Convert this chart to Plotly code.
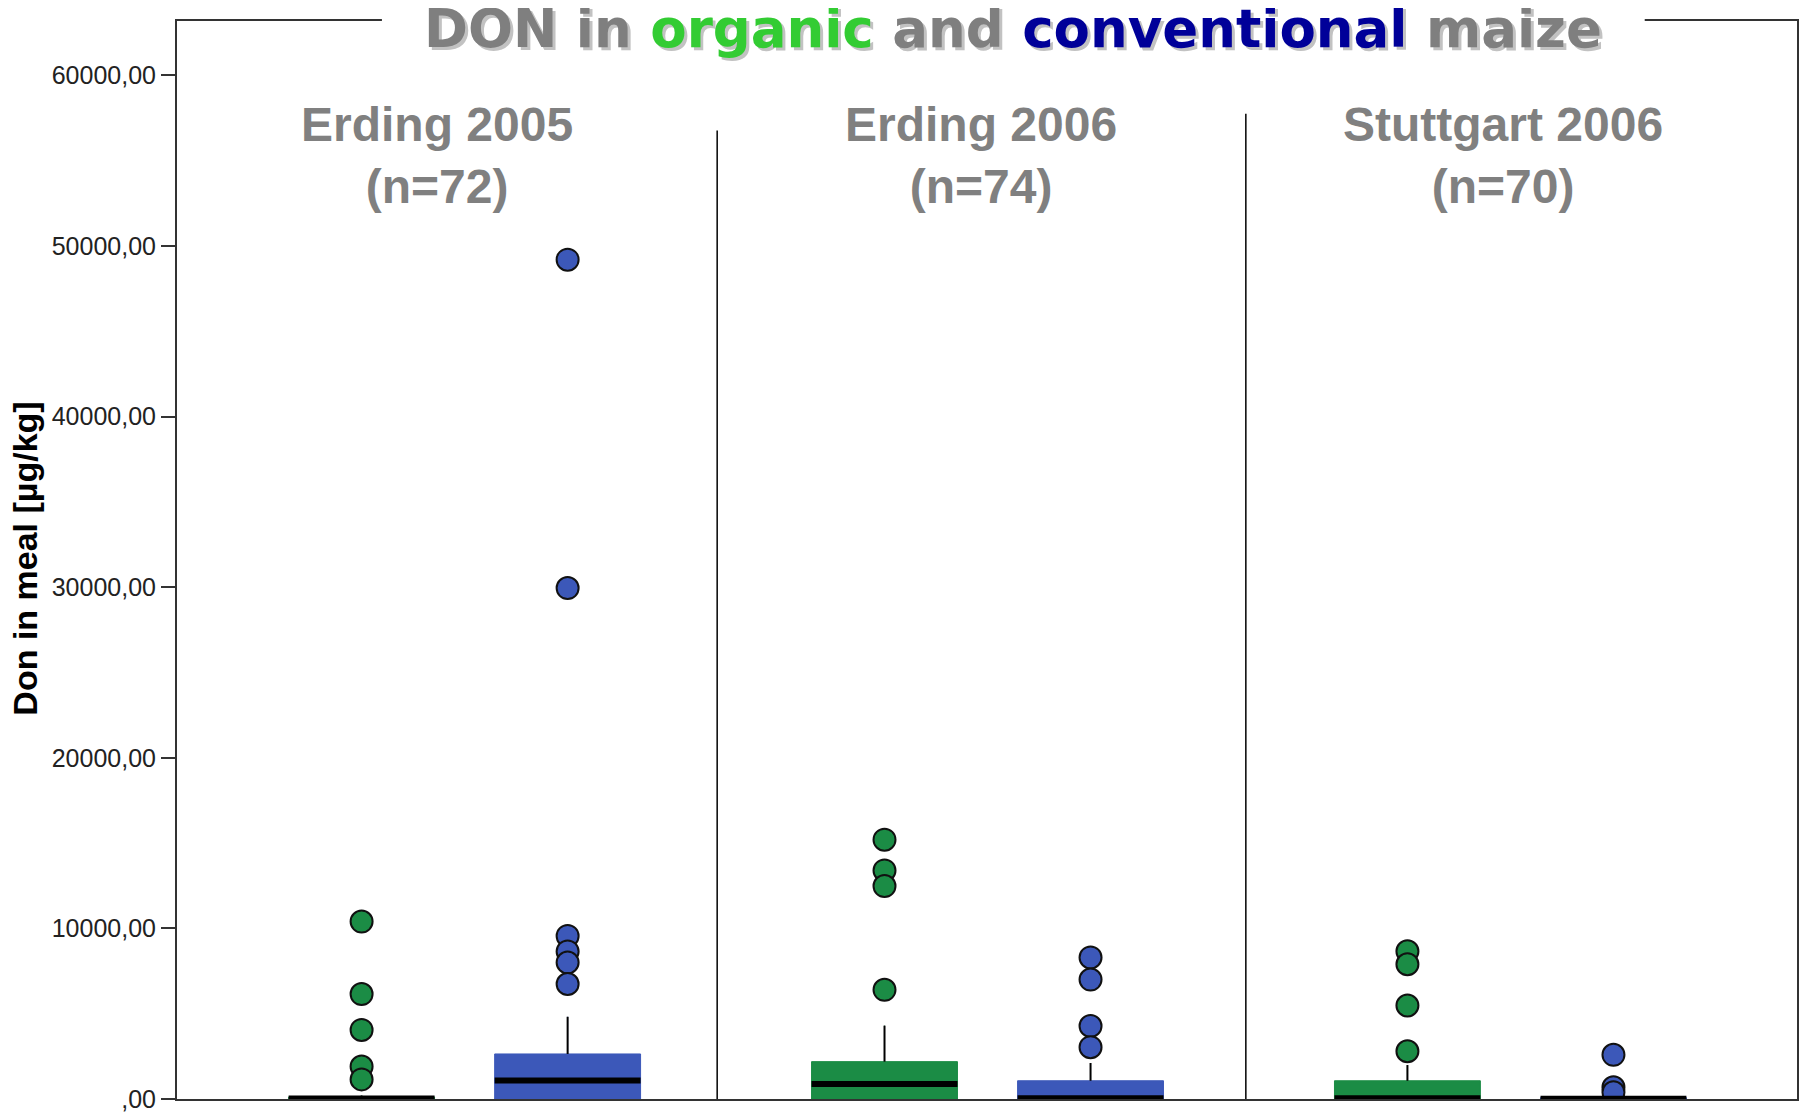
import plotly.graph_objects as go

# ---------------- data ----------------
groups = ["Erding 2005", "Erding 2006", "Stuttgart 2006"]
n_counts = [72, 74, 70]

organic_q1 = [0, 0, 0]
organic_median = [30, 880, 40]
organic_q3 = [120, 2190, 1070]
organic_lower = [0, 0, 0]
organic_upper = [200, 4300, 1990]
organic_outliers = [
    [10400, 6150, 4050, 1900, 1150],
    [15200, 13400, 12480, 6400],
    [8660, 7900, 5480, 2800],
]

conv_q1 = [0, 0, 0]
conv_median = [1080, 40, 20]
conv_q3 = [2640, 1070, 80]
conv_lower = [0, 0, 0]
conv_upper = [4820, 2110, 150]
conv_outliers = [
    [49200, 29950, 9560, 8650, 8000, 6740],
    [8300, 7000, 4280, 3040],
    [2590, 690, 390],
]

y_tickvals = [0, 10000, 20000, 30000, 40000, 50000, 60000]
y_ticktext = [",00", "10000,00", "20000,00", "30000,00", "40000,00", "50000,00", "60000,00"]

# ---------------- styling ----------------
GREEN = "#1b8c45"
BLUE = "#3c58b9"
OFFSET = 0.197
BOX_W = 0.279
FONT = "Liberation Sans, Arial, sans-serif"
TITLE_FONT = "DejaVu Sans, Liberation Sans, sans-serif"

fig = go.Figure()

series = [
    ("organic", GREEN, -OFFSET, organic_q1, organic_median, organic_q3, organic_lower, organic_upper, organic_outliers),
    ("conventional", BLUE, OFFSET, conv_q1, conv_median, conv_q3, conv_lower, conv_upper, conv_outliers),
]

med_x, med_y, wh_x, wh_y = [], [], [], []
for name, col, off, q1, med, q3, lo, up, outl in series:
    for gi in range(len(groups)):
        xc = gi + off
        fig.add_trace(go.Box(
            x=[xc], q1=[q1[gi]], median=[med[gi]], q3=[q3[gi]],
            lowerfence=[lo[gi]], upperfence=[up[gi]],
            width=BOX_W, whiskerwidth=0,
            fillcolor=col, line=dict(color=col, width=1),
            showlegend=False, hoverinfo="skip",
        ))
        wh_x += [xc, xc, None]
        wh_y += [q3[gi], up[gi], None]
        med_x += [xc - BOX_W / 2, xc + BOX_W / 2, None]
        med_y += [med[gi], med[gi], None]

fig.add_trace(go.Scatter(x=wh_x, y=wh_y, mode="lines",
                         line=dict(color="black", width=2),
                         showlegend=False, hoverinfo="skip"))

for name, col, off, q1, med, q3, lo, up, outl in series:
    for gi in range(len(groups)):
        xc = gi + off
        fig.add_trace(go.Scatter(
            x=[xc] * len(outl[gi]), y=outl[gi], mode="markers",
            marker=dict(size=22, color=col, line=dict(color="#111111", width=2)),
            showlegend=False, hoverinfo="skip",
        ))

fig.add_trace(go.Scatter(x=med_x, y=med_y, mode="lines",
                         line=dict(color="black", width=6),
                         showlegend=False, hoverinfo="skip"))

# separators between sites
sep_x = [0.483, 1.494]
sep_top = [56770, 57760]
for sx, st in zip(sep_x, sep_top):
    fig.add_shape(type="line", xref="x", yref="y", x0=sx, x1=sx, y0=0, y1=st,
                  line=dict(color="black", width=1.5), layer="above")

# white box behind title hiding the frame
fig.add_shape(type="rect", xref="paper", yref="paper", x0=0.1265, x1=0.906,
              y0=0.985, y1=1.05, fillcolor="white", line=dict(width=0), layer="above")

# site headers
header_x = [-0.053, 0.988, 1.986]
for g, n, hx in zip(groups, n_counts, header_x):
    fig.add_annotation(x=hx, xref="x", y=0.8755, yref="paper",
                       text=f"{g}<br>(n={n})", showarrow=False,
                       xanchor="center", yanchor="middle",
                       font=dict(family=FONT, size=48, color="#808080", weight="bold"))

# title with shadow
title_plain = "DON in organic and conventional maize"
title_rich = ("DON in <span style='color:#33cc33'>organic</span> and "
              "<span style='color:#000099'>conventional</span> maize")
fig.add_annotation(x=0.516, xref="paper", y=0.9926, yref="paper", text=title_plain,
                   showarrow=False, xanchor="center", yanchor="middle",
                   xshift=3, yshift=-3,
                   font=dict(family=TITLE_FONT, size=53, color="#c2c2c2", weight="bold"))
fig.add_annotation(x=0.516, xref="paper", y=0.9926, yref="paper", text=title_rich,
                   showarrow=False, xanchor="center", yanchor="middle",
                   font=dict(family=TITLE_FONT, size=53, color="#7f7f7f", weight="bold"))

# y axis title
fig.add_annotation(x=-0.094, xref="paper", y=0.501, yref="paper",
                   text="Don in meal [µg/kg]", textangle=-90, showarrow=False,
                   xanchor="center", yanchor="middle",
                   font=dict(family=FONT, size=34, color="black", weight="bold"))

# the page body keeps an 8px default margin, so the figure is 8px smaller
fig.update_layout(
    width=1806, height=1105,
    margin=dict(l=169, r=17, t=13, b=14, autoexpand=False),
    paper_bgcolor="white", plot_bgcolor="white",
    showlegend=False,
    xaxis=dict(range=[-0.55, 2.548], showticklabels=False, ticks="",
               showgrid=False, zeroline=False, showline=True, mirror=True,
               linecolor="#333333", linewidth=2, fixedrange=True, automargin=False),
    yaxis=dict(range=[0, 63190], tickvals=y_tickvals, ticktext=y_ticktext,
               ticks="outside", ticklen=14, tickwidth=2, tickcolor="#333333",
               tickfont=dict(family=FONT, size=25, color="#222222"),
               showgrid=False, zeroline=False, showline=True, mirror=True,
               linecolor="#333333", linewidth=2, fixedrange=True, automargin=False),
)

fig.write_html("out.html")
